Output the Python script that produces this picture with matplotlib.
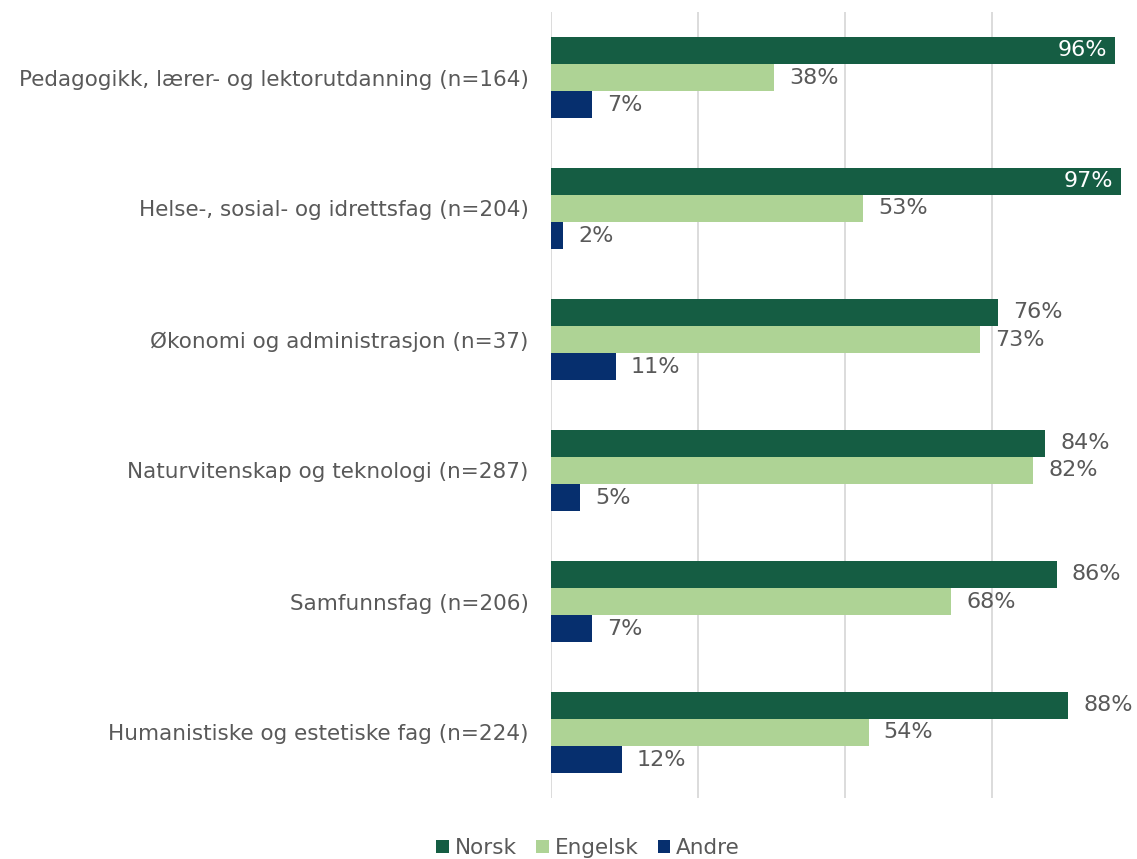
import matplotlib
matplotlib.use("Agg")
import matplotlib.pyplot as plt
import numpy as np

categories = ["Pedagogikk, lærer- og lektorutdanning (n=164)",
              "Helse-, sosial- og idrettsfag (n=204)",
              "Økonomi og administrasjon (n=37)",
              "Naturvitenskap og teknologi (n=287)",
              "Samfunnsfag (n=206)",
              "Humanistiske og estetiske fag (n=224)"]
norsk = [96, 97, 76, 84, 86, 88]
engelsk = [38, 53, 73, 82, 68, 54]
andre = [7, 2, 11, 5, 7, 12]
series = [("Norsk", norsk, "#155d43"),
          ("Engelsk", engelsk, "#aed395"),
          ("Andre", andre, "#062f6e")]

plt.rcParams['font.family'] = ['DejaVu Sans']
fig = plt.figure(figsize=(11.37, 8.59), dpi=100)
ax = fig.add_axes([551/1137, 1 - 798/859, 588/1137, 786/859])

txt = "#595959"
bh = 0.208
y = np.arange(len(categories))
for i, (name, vals, col) in enumerate(series):
    pos = y + (i - 1) * bh
    ax.barh(pos, vals, height=bh, color=col, label=name)
    for p, v in zip(pos, vals):
        if v >= 95:
            ax.annotate("%d%%" % v, (v, p), xytext=(-6, 0), textcoords="offset points",
                        ha="right", va="center", color="white", fontsize=16)
        else:
            ax.annotate("%d%%" % v, (v, p), xytext=(11, 0), textcoords="offset points",
                        ha="left", va="center", color=txt, fontsize=16)

ax.set_ylim(len(categories) - 0.5, -0.5)
ax.set_xlim(0, 100)
ax.set_yticks(y)
ax.set_yticklabels(categories, fontsize=15.5, color=txt)
ax.set_xticks([0, 25, 50, 75, 100])
ax.set_xticklabels([])
ax.tick_params(length=0, pad=16)
ax.grid(True, axis="x", color="#d9d9d9", lw=1.3)
ax.set_axisbelow(True)
for s in ax.spines.values():
    s.set_visible(False)

leg = fig.legend(loc="center", bbox_to_anchor=(588/1137, 1 - 848/859), ncol=3,
                 frameon=False, fontsize=15.5, handlelength=0.6, handleheight=0.6,
                 handletextpad=0.25, columnspacing=0.9, labelcolor=txt)

fig.savefig("out.png", dpi=100)
